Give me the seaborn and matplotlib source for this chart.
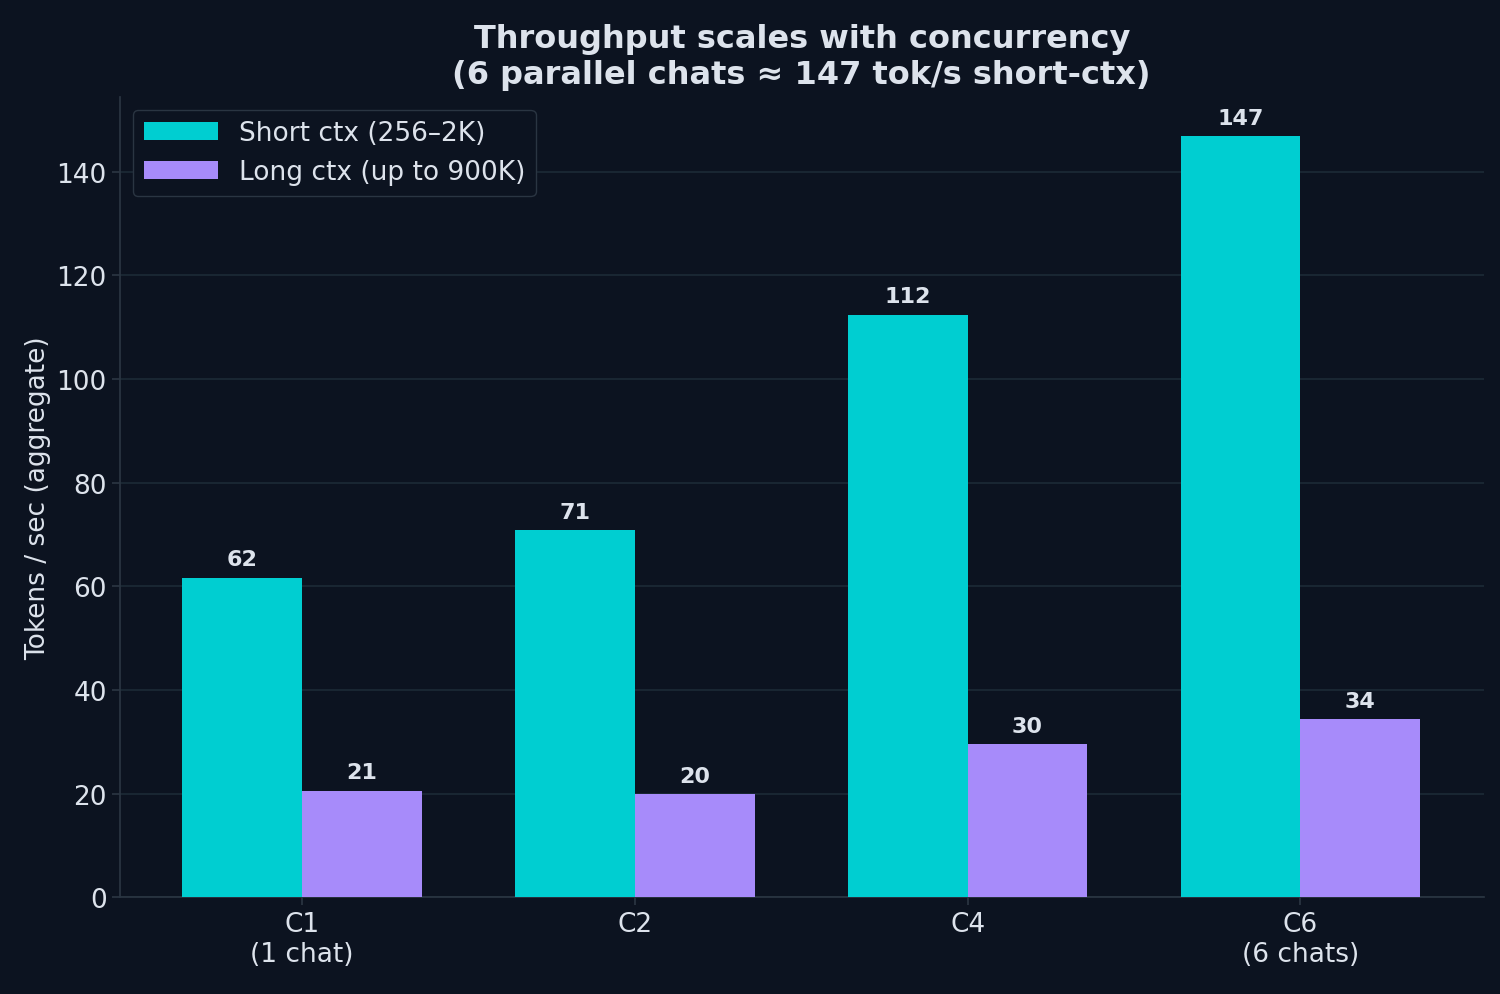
import matplotlib
matplotlib.use("Agg")
import matplotlib.pyplot as plt
import seaborn as sns
import pandas as pd

categories = ["C1\n(1 chat)", "C2", "C4", "C6\n(6 chats)"]
short_ctx = [61.7, 70.8, 112.4, 146.9]
long_ctx = [20.6, 19.9, 29.6, 34.4]
series = ["Short ctx (256–2K)", "Long ctx (up to 900K)"]

df = pd.DataFrame({
    "cat": categories * 2,
    "val": short_ctx + long_ctx,
    "series": [series[0]] * 4 + [series[1]] * 4,
})

bg = "#0c1320"
txt = "#dde3ec"
sns.set_theme(style="dark")
plt.rcParams["font.family"] = ["DejaVu Sans"]
fig, ax = plt.subplots(figsize=(15, 9.95), dpi=100)
fig.patch.set_facecolor(bg)
ax.set_facecolor(bg)
fig.subplots_adjust(left=0.08, right=0.989, top=0.902, bottom=0.097)

sns.barplot(data=df, x="cat", y="val", hue="series", palette=["#00CED1", "#A78BFA"],
            width=0.72, saturation=1, ax=ax, zorder=3, linewidth=0, edgecolor="none")

for cont in ax.containers:
    ax.bar_label(cont, labels=[f"{v:.0f}" for v in cont.datavalues], padding=6,
                 color=txt, fontsize=16, fontweight="bold")

ax.set_ylim(0, 154.5)
ax.set_xlim(-0.547, 3.55)
ax.yaxis.grid(True, color="#1c2a36", linewidth=1.2, zorder=0)
ax.xaxis.grid(False)
for s in ["top", "right"]:
    ax.spines[s].set_visible(False)
for s in ["left", "bottom"]:
    ax.spines[s].set_visible(True)
    ax.spines[s].set_color("#2a3542")
ax.tick_params(colors=txt, labelsize=19, left=True, bottom=True, length=6, color="#2a3542")
ax.set_xlabel("")
ax.set_ylabel("Tokens / sec (aggregate)", color=txt, fontsize=19)
ax.set_title("Throughput scales with concurrency\n(6 parallel chats ≈ 147 tok/s short-ctx)",
             color=txt, fontsize=23, fontweight="bold", pad=10)
leg = ax.legend(loc="upper left", fontsize=19, facecolor=bg, edgecolor="#2a3542",
                labelcolor=txt, framealpha=1, handlelength=2.8)
fig.savefig("out.png", dpi=100, facecolor=bg)
